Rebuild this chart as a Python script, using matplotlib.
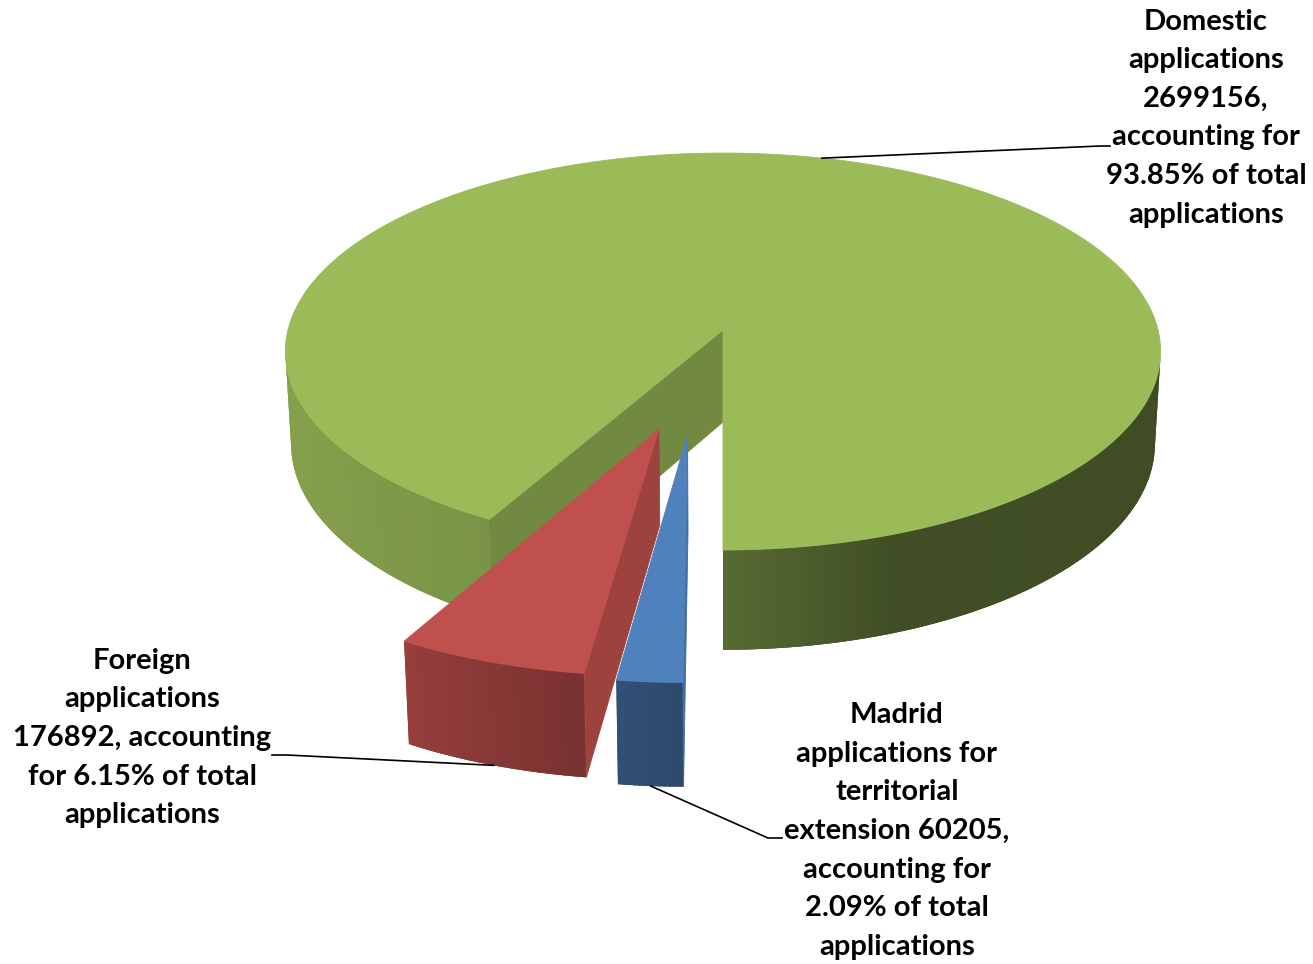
import numpy as np
import matplotlib.pyplot as plt
import matplotlib.colors as mcolors
from matplotlib.patches import Polygon

# chart data
categories = ['Domestic', 'Foreign', 'Madrid']
values = [2699156, 176892, 60205]
shares = ['93.85%', '6.15%', '2.09%']
labels = [
    f'Domestic\napplications\n{values[0]},\naccounting for\n{shares[0]} of total\napplications',
    f'Foreign\napplications\n{values[1]}, accounting\nfor {shares[1]} of total\napplications',
    f'Madrid\napplications for\nterritorial\nextension {values[2]},\naccounting for\n{shares[2]} of total\napplications',
]

# style
colors = ['#9BBB59', '#C0504D', '#4F81BD']
explode = [0.0, 0.5, 0.51]
explode_skew = [0, 2, -5]   # degrees, the excel explode is not quite radial
start_angle = 270

# fake 3d camera (pixel space)
CX, CY = 723, 330
SCALE = 435
DIST = 8.24
ELEV = np.radians(26.8)
DEPTH = 0.24
CAM = np.array([0.0, -DIST * np.cos(ELEV), DIST * np.sin(ELEV)])

# shading of the outer wall depending on the angle of its normal
side_ang = [180, 200, 240, 262, 270, 290, 360]
side_fac = [0.88, 0.86, 0.79, 0.63, 0.57, 0.42, 0.40]
# shading of the cut faces
cut_ang = [180, 330, 360]
cut_fac = [0.85, 0.73, 0.85]


def project(x, y, z):
    yc = y * np.sin(ELEV) + z * np.cos(ELEV)
    zc = y * np.cos(ELEV) - z * np.sin(ELEV) + DIST
    return CX + SCALE * DIST * x / zc, CY - SCALE * DIST * yc / zc


def shade(color, f):
    r, g, b = mcolors.to_rgb(color)
    return (r * f, g * f, b * f)


def visible(p, n):
    return np.dot(CAM - np.asarray(p), np.asarray(n)) > 0


def add_face(ax, pts, color, edge=True):
    xy = [project(*p) for p in pts]
    ax.add_patch(Polygon(xy, closed=True, facecolor=color,
                         edgecolor=color if edge else 'none', lw=0.6 if edge else 0))


fig = plt.figure(figsize=(13.13, 9.64), dpi=100)
ax = fig.add_axes([0, 0, 1, 1])
ax.set_xlim(0, 1313)
ax.set_ylim(964, 0)
ax.axis('off')

fracs = np.array(values, dtype=float) / sum(values)
bounds = start_angle + 360 * np.concatenate([[0], np.cumsum(fracs)])
anchors = []

for i in range(len(values)):
    t1, t2 = bounds[i], bounds[i + 1]
    mid = np.radians((t1 + t2) / 2)
    shift = mid + np.radians(explode_skew[i])
    ox, oy = explode[i] * np.cos(shift), explode[i] * np.sin(shift)
    col = colors[i]
    th = np.radians(np.linspace(t1, t2, max(int((t2 - t1) * 2), 4)))
    step = th[1] - th[0]

    # which parts of the outer wall face the camera
    vis = [visible((ox + np.cos(t), oy + np.sin(t), 0), (np.cos(t), np.sin(t), 0)) for t in th]

    # flat under-layer for each visible run, hides anti-alias seams
    runs, cur = [], []
    for t, v in zip(th, vis):
        if v:
            cur.append(t)
        elif cur:
            runs.append(cur)
            cur = []
    if cur:
        runs.append(cur)
    for run in runs:
        if len(run) < 2:
            continue
        f = np.interp(np.degrees(np.mean(run)) % 360, side_ang, side_fac)
        pts = [(ox + np.cos(t), oy + np.sin(t), 0) for t in run]
        pts += [(ox + np.cos(t), oy + np.sin(t), -DEPTH) for t in run[::-1]]
        add_face(ax, pts, shade(col, f), edge=False)

    # outer wall, in thin overlapping strips
    for k in range(len(th) - 1):
        a, b = th[k], th[k + 1]
        if not (vis[k] and vis[k + 1]):
            continue
        m = (a + b) / 2
        f = np.interp(np.degrees(m) % 360, side_ang, side_fac)
        bb = min(b + step * 0.6, th[-1])
        pts = [(ox + np.cos(a), oy + np.sin(a), 0), (ox + np.cos(bb), oy + np.sin(bb), 0),
               (ox + np.cos(bb), oy + np.sin(bb), -DEPTH), (ox + np.cos(a), oy + np.sin(a), -DEPTH)]
        add_face(ax, pts, shade(col, f), edge=False)

    # the two cut faces
    for t, sgn in ((th[0], -1), (th[-1], 1)):
        na = t + sgn * np.pi / 2
        n = (np.cos(na), np.sin(na), 0)
        if not visible((ox, oy, 0), n):
            continue
        f = np.interp(np.degrees(na) % 360, cut_ang, cut_fac)
        pts = [(ox, oy, 0), (ox + np.cos(t), oy + np.sin(t), 0),
               (ox + np.cos(t), oy + np.sin(t), -DEPTH), (ox, oy, -DEPTH)]
        add_face(ax, pts, shade(col, f))

    # top face
    pts = [(ox, oy, 0)] + [(ox + np.cos(t), oy + np.sin(t), 0) for t in th]
    add_face(ax, pts, col)

    # leader anchor: back slice at top rim, front slices at bottom rim
    z = 0 if np.sin(mid) > 0 else -DEPTH
    anchors.append(project(ox + np.cos(mid), oy + np.sin(mid), z))

# labels and leader lines
label_pos = [(1206, 118), (142, 738), (897, 831)]
elbows = [((1100, 146), (1110, 146)), ((287, 755), (272, 755)), ((768, 838), (782, 838))]
for lab, pos, anc, (e1, e2) in zip(labels, label_pos, anchors, elbows):
    ax.text(pos[0], pos[1], lab, ha='center', va='center', multialignment='center',
            fontsize=21, fontweight='bold', family=['Lato', 'DejaVu Sans'],
            linespacing=1.6, color='black')
    ax.plot([anc[0], e1[0], e2[0]], [anc[1], e1[1], e2[1]], color='black', lw=1.2)

fig.savefig('out.png', dpi=100)
